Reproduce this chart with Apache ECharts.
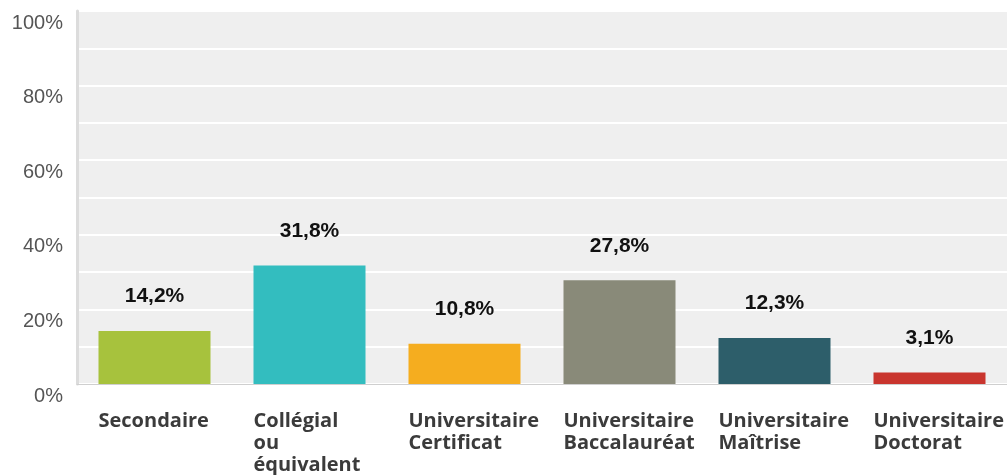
<!DOCTYPE html>
<html>
<head>
    <meta charset="utf-8">
    <title>Niveau de scolarité</title>
    <script src="https://cdn.jsdelivr.net/npm/echarts@6/dist/echarts.min.js"></script>
    <style>
        html, body { margin: 0; padding: 0; background: #fff; }
        #main { width: 1007px; height: 475px; }
    </style>
</head>
<body>
<div id="main"></div>
<script>
    // données
    var categories = ['Secondaire', 'Collégial\nou\néquivalent', 'Universitaire\nCertificat',
        'Universitaire\nBaccalauréat', 'Universitaire\nMaîtrise', 'Universitaire\nDoctorat'];
    var values = [14.2, 31.8, 10.8, 27.8, 12.3, 3.1];
    var barColors = ['#a7c23d', '#33bdbf', '#f5ad1f', '#898a79', '#2d5e6a', '#c9352e'];
    var yTicks = [0, 20, 40, 60, 80, 100];

    var myChart = echarts.init(document.getElementById('main'));
    myChart.setOption({
        animation: false,
        grid: {left: 77, right: 0, top: 11, bottom: 91, show: true, backgroundColor: '#efefef', borderWidth: 0},
        xAxis: {
            type: 'category',
            data: categories,
            axisLine: {lineStyle: {color: '#cfcfcf', width: 1}},
            axisTick: {show: false},
            axisLabel: {
                margin: 26,
                interval: 0,
                verticalAlign: 'top',
                formatter: function (v) {
                    return v.split('\n').map(function (s) { return '{a|' + s + '}'; }).join('\n');
                },
                rich: {
                    a: {
                        width: 112, align: 'left', fontFamily: 'Open Sans', fontWeight: 'bold',
                        fontSize: 20, lineHeight: 22, color: '#3b3b3b'
                    }
                }
            }
        },
        yAxis: {
            type: 'value',
            min: 0,
            max: 100,
            interval: 10,
            axisLine: {show: true, lineStyle: {color: '#dcdcdc', width: 3}},
            axisTick: {show: false},
            splitLine: {lineStyle: {color: '#ffffff', width: 2}},
            axisLabel: {
                margin: 14,
                verticalAlign: 'top',
                padding: [2, 0, 0, 0],
                fontFamily: 'Liberation Sans',
                fontSize: 20,
                color: '#555',
                formatter: function (v) {
                    return yTicks.indexOf(v) >= 0 ? v + '%' : '';
                }
            }
        },
        series: [{
            type: 'bar',
            data: values.map(function (v, i) { return {value: v, itemStyle: {color: barColors[i]}}; }),
            barWidth: 112,
            label: {
                show: true,
                position: 'top',
                distance: 24,
                fontFamily: 'Liberation Sans',
                fontWeight: 'bold',
                fontSize: 21,
                color: '#111',
                formatter: function (p) { return String(p.value).replace('.', ',') + '%'; }
            }
        }]
    });
</script>
</body>
</html>
